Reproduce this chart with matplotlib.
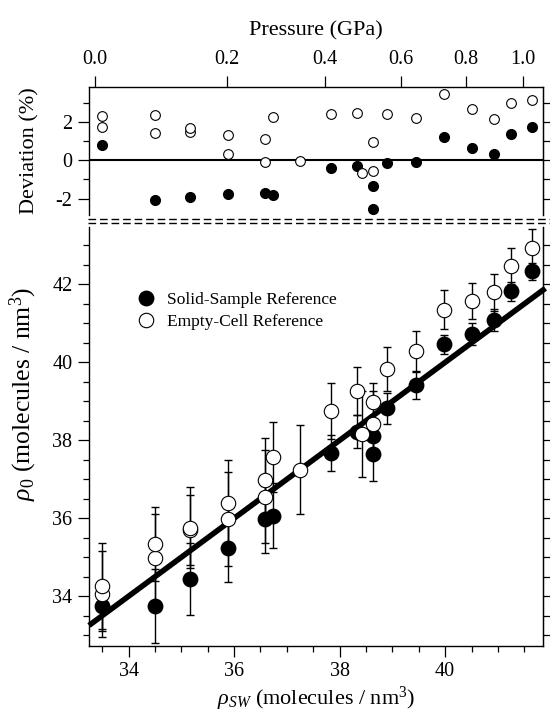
import numpy as np
import matplotlib
matplotlib.use('Agg')
import matplotlib.pyplot as plt
from matplotlib.lines import Line2D

# Times-like look
plt.rcParams['font.family'] = 'serif'
plt.rcParams['font.serif'] = ['Liberation Serif', 'DejaVu Serif']
plt.rcParams['mathtext.fontset'] = 'custom'
plt.rcParams['mathtext.rm'] = 'Liberation Serif'
plt.rcParams['mathtext.it'] = 'Liberation Serif:italic'
plt.rcParams['axes.unicode_minus'] = False

# Solid-sample reference: density, rho_0, error, deviation (%)
solid_x = [33.50, 34.51, 35.16, 35.88, 36.59, 36.74, 37.84, 38.33, 38.63, 38.63,
           38.90, 39.44, 39.97, 40.50, 40.92, 41.24, 41.65]
solid_rho = [33.75, 33.75, 34.45, 35.24, 35.97, 36.07, 37.67, 38.22, 38.12, 37.66,
             38.82, 39.41, 40.46, 40.72, 41.08, 41.82, 42.34]
solid_err = [0.65, 0.95, 0.92, 0.88, 0.86, 0.84, 0.46, 0.43, 0.45, 0.71,
             0.39, 0.34, 0.25, 0.28, 0.28, 0.24, 0.22]
solid_dev = [0.80, -2.09, -1.92, -1.75, -1.73, -1.80, -0.42, -0.28, -1.33, -2.55,
             -0.16, -0.09, 1.20, 0.63, 0.31, 1.38, 1.73]

# Empty-cell reference
empty_x = [33.50, 33.50, 34.51, 34.51, 35.16, 35.16, 35.88, 35.88, 36.59, 36.59,
           36.74, 37.25, 37.84, 38.33, 38.43, 38.63, 38.63, 38.90, 39.44, 39.97,
           40.50, 40.92, 41.24, 41.65]
empty_rho = [34.05, 34.26, 34.99, 35.33, 35.69, 35.76, 35.98, 36.38, 36.55, 36.98,
             37.58, 37.25, 38.75, 39.26, 38.17, 38.98, 38.41, 39.83, 40.29, 41.35,
             41.57, 41.80, 42.47, 42.93]
empty_err = [1.10, 1.10, 1.11, 0.95, 0.90, 1.03, 1.20, 1.12, 1.19, 1.07,
             0.90, 1.13, 0.72, 0.62, 1.10, 0.50, 0.85, 0.57, 0.52, 0.50,
             0.47, 0.47, 0.46, 0.50]
empty_dev = [1.76, 2.30, 1.41, 2.36, 1.47, 1.69, 0.33, 1.34, -0.09, 1.13,
             2.28, -0.02, 2.41, 2.46, -0.65, 0.94, -0.56, 2.41, 2.20, 3.46,
             2.69, 2.18, 2.98, 3.16]

# fitted line rho_0 = slope * rho_SW + intercept
fit_slope = 1.0
fit_intercept = 0.0

# pressure axis: tick positions (in density units) and labels
p_pos = [33.355, 35.871, 37.721, 39.170, 40.389, 41.475]
p_labels = ['0.0', '0.2', '0.4', '0.6', '0.8', '1.0']

xlim = (33.25, 41.86)
tick_fs = 14.5
label_fs = 16

fig = plt.figure(figsize=(5.5, 7.19), dpi=100)
ax1 = fig.add_axes([0.1618, 0.7010, 0.826, 0.1784])
ax2 = fig.add_axes([0.1618, 0.1019, 0.826, 0.5828])

# ---- top panel: deviation ----
ax1.axhline(0, color='black', lw=1.5, zorder=1)
ax1.plot(solid_x, solid_dev, 'o', ms=7.0, mfc='black', mec='black', zorder=3)
ax1.plot(empty_x, empty_dev, 'o', ms=7.0, mfc='white', mec='black', mew=0.8, zorder=4)
ax1.set_xlim(xlim)
ax1.set_ylim(-2.86, 3.85)
ax1.spines['bottom'].set_visible(False)
for s in ['left', 'right', 'top']:
    ax1.spines[s].set_linewidth(1.0)
ax1.set_yticks([-2, 0, 2])
ax1.set_yticks([-1, 1, 3], minor=True)
ax1.tick_params(axis='y', which='major', length=7.9, width=0.9, direction='out',
                labelsize=tick_fs, pad=4)
ax1.tick_params(axis='y', which='minor', length=4.3, width=0.9, direction='out')
ax1.set_xticks(p_pos)
ax1.set_xticklabels(p_labels)
ax1.tick_params(axis='x', which='both', bottom=False, labelbottom=False, top=True,
                labeltop=True, direction='out', length=7.7, width=0.9,
                labelsize=tick_fs, pad=5)
ax1.xaxis.set_label_position('top')
ax1.set_xlabel('Pressure (GPa)', fontsize=label_fs)
ax1.xaxis.set_label_coords(0.5, 1.40)
ax1.set_ylabel('Deviation (%)', fontsize=label_fs)
ax1.yaxis.set_label_coords(-0.11, 0.5)
sec1 = ax1.secondary_yaxis('right')
sec1.set_yticks([-2, -1, 0, 1, 2, 3])
sec1.tick_params(length=4.8, width=0.9, labelright=False, direction='out')

# ---- bottom panel: rho_0 vs rho_SW ----
ax2.errorbar(solid_x, solid_rho, yerr=solid_err, fmt='none', ecolor='black',
             elinewidth=1.0, capsize=2.6, capthick=1.0, zorder=2)
ax2.errorbar(empty_x, empty_rho, yerr=empty_err, fmt='none', ecolor='black',
             elinewidth=1.0, capsize=2.6, capthick=1.0, zorder=2)
xs = np.array([xlim[0], 41.9])
ax2.plot(xs, fit_slope * xs + fit_intercept, color='black', lw=4,
         solid_capstyle='butt', zorder=2.5, clip_on=False)
ax2.plot(solid_x, solid_rho, 'o', ms=10.4, mfc='black', mec='black', zorder=3,
         label='Solid-Sample Reference')
ax2.plot(empty_x, empty_rho, 'o', ms=10.4, mfc='white', mec='black', mew=0.8,
         zorder=4, label='Empty-Cell Reference')
ax2.set_xlim(xlim)
ax2.set_ylim(32.73, 43.48)
ax2.spines['top'].set_visible(False)
for s in ['left', 'right', 'bottom']:
    ax2.spines[s].set_linewidth(1.0)
ax2.set_xticks([34, 36, 38, 40])
ax2.set_xticks(np.arange(33.5, 42.0, 0.5), minor=True)
ax2.set_yticks([34, 36, 38, 40, 42])
ax2.set_yticks(np.arange(33.0, 43.5, 0.5), minor=True)
ax2.tick_params(which='major', length=7.9, width=0.9, direction='out',
                labelsize=tick_fs, pad=4)
ax2.tick_params(which='minor', length=4.3, width=0.9, direction='out')
sec2 = ax2.secondary_yaxis('right')
sec2.set_yticks(np.arange(33.0, 43.5, 0.5))
sec2.tick_params(length=4.8, width=0.9, labelright=False, direction='out')
ax2.set_xlabel(r'$\rho_{SW}$ (molecules / nm$^{3}$)', fontsize=label_fs)
ax2.xaxis.set_label_coords(0.5, -0.093)
ax2.set_ylabel(r'$\rho_{0}$ (molecules / nm$^{3}$)', fontsize=18.5)
ax2.yaxis.set_label_coords(-0.11, 0.60)
ax2.legend(loc='upper left', bbox_to_anchor=(0.106, 0.844), frameon=False,
           fontsize=12.5, handlelength=1.0, handletextpad=0.7, labelspacing=0.3,
           borderaxespad=0, borderpad=0)

# broken-axis marks between the panels
for yy in [1 - 219.0 / 719, 1 - 222.5 / 719]:
    fig.add_artist(Line2D([0.1606, 1.0], [yy, yy], transform=fig.transFigure,
                          color='black', lw=1.0, dashes=(5.5, 2.8)))

fig.savefig('out.png', dpi=100)
